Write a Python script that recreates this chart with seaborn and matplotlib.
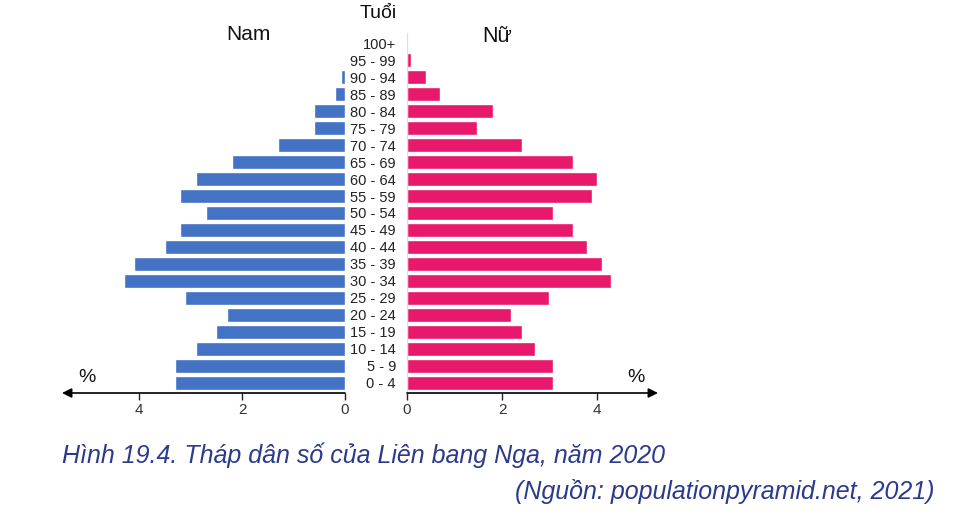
import matplotlib
matplotlib.use("Agg")
import matplotlib.pyplot as plt
import seaborn as sns
import pandas as pd

# Age groups (top to bottom) and share of population (%)
ages = ["100+", "95 - 99", "90 - 94", "85 - 89", "80 - 84", "75 - 79", "70 - 74",
        "65 - 69", "60 - 64", "55 - 59", "50 - 54", "45 - 49", "40 - 44", "35 - 39",
        "30 - 34", "25 - 29", "20 - 24", "15 - 19", "10 - 14", "5 - 9", "0 - 4"]
male = [0.0, 0.0, 0.08, 0.19, 0.6, 0.6, 1.3, 2.2, 2.9, 3.2, 2.7, 3.2, 3.5, 4.1,
        4.3, 3.1, 2.3, 2.5, 2.9, 3.3, 3.3]
female = [0.0, 0.08, 0.4, 0.69, 1.8, 1.48, 2.41, 3.49, 4.0, 3.9, 3.08, 3.49, 3.78, 4.1,
          4.29, 2.98, 2.18, 2.41, 2.69, 3.08, 3.08]
ticks = [0, 2, 4]

df = pd.DataFrame({"age": ages, "male": male, "female": female})

sns.set_theme(style="white")
plt.rcParams["font.family"] = ["Liberation Sans", "DejaVu Sans"]

W, H = 962, 520
fig = plt.figure(figsize=(W / 100, H / 100), dpi=100)
fig.patch.set_facecolor("white")

top_px, bot_px = 33, 393
bottom = 1 - bot_px / H
height = (bot_px - top_px) / H
ax_l = fig.add_axes([62 / W, bottom, (345 - 62) / W, height])
ax_r = fig.add_axes([407 / W, bottom, (658 - 407) / W, height])

sns.barplot(data=df, x="male", y="age", order=ages, color="#4472C4",
            saturation=1, width=0.8, ax=ax_l)
sns.barplot(data=df, x="female", y="age", order=ages, color="#E8186A",
            saturation=1, width=0.8, ax=ax_r)

ylim = (20.59, -0.59)
for ax in (ax_l, ax_r):
    ax.set_ylim(*ylim)
    ax.set_xlabel("")
    ax.set_ylabel("")
    ax.set_facecolor("none")
    for s in ax.spines.values():
        s.set_visible(False)
    ax.set_xticks(ticks)
    ax.set_xticklabels([str(t) for t in ticks])
    ax.tick_params(axis="x", bottom=True, length=5, width=1, color="#222222",
                   labelsize=11, labelcolor="#333333", pad=2)

ax_l.set_xlim(5.5, 0)
ax_r.set_xlim(0, 5.28)
ax_l.set_yticks([])

ax_r.tick_params(axis="y", left=False, length=0, pad=8, labelsize=10.5,
                 labelcolor="#222222")
ax_r.spines["left"].set_visible(True)
ax_r.spines["left"].set_color("#dddddd")
ax_r.spines["left"].set_linewidth(0.8)

# axis lines with arrow heads
ax_l.annotate("", xy=(0, 0), xycoords="axes fraction", xytext=(1, 0),
              arrowprops=dict(arrowstyle="-|>", color="black", lw=1.2,
                              mutation_scale=14, shrinkA=0, shrinkB=0))
ax_r.annotate("", xy=(1, 0), xycoords="axes fraction", xytext=(0, 0),
              arrowprops=dict(arrowstyle="-|>", color="black", lw=1.2,
                              mutation_scale=14, shrinkA=0, shrinkB=0))

# labels
def px(x, y):
    return x / W, 1 - y / H

fig.text(*px(248, 35), "Nam", ha="center", va="center", fontsize=15, color="#111111")
fig.text(*px(378, 13), "Tuổi", ha="center", va="center", fontsize=14, color="#111111")
fig.text(*px(497, 37), "Nữ", ha="center", va="center", fontsize=15.5, color="#111111")
fig.text(*px(87, 377), "%", ha="center", va="center", fontsize=14, color="#111111")
fig.text(*px(636, 377), "%", ha="center", va="center", fontsize=14, color="#111111")

cap_font = ["Liberation Sans Narrow", "Liberation Sans", "DejaVu Sans"]
fig.text(*px(62, 455), "Hình 19.4. Tháp dân số của Liên bang Nga, năm 2020",
         ha="left", va="center", fontsize=18, style="italic", color="#2B3A8C",
         family=cap_font)
fig.text(*px(935, 491), "(Nguồn: populationpyramid.net, 2021)",
         ha="right", va="center", fontsize=18, style="italic", color="#2B3A8C",
         family=cap_font)

fig.savefig("out.png", dpi=100)
